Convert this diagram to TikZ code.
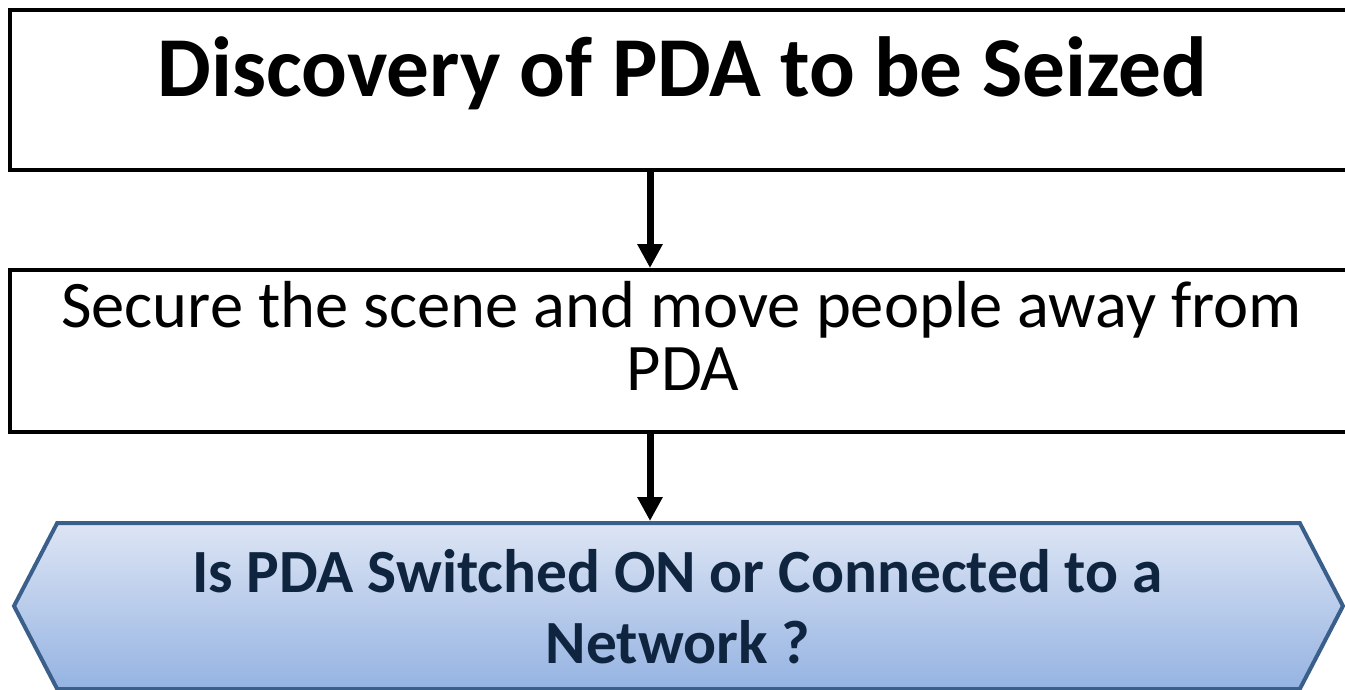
\documentclass[tikz,border=0pt]{standalone}
\usepackage{fontspec}
\setmainfont{Carlito}
\usetikzlibrary{arrows.meta,shapes.symbols}
\definecolor{qborder}{HTML}{3A5F8B}
\definecolor{qtop}{HTML}{DDE5F4}
\definecolor{qbottom}{HTML}{95B3E2}
\definecolor{qtext}{HTML}{0F243E}
\tikzset{
  stepbox/.style={draw=black, line width=4pt, fill=white, rectangle,
    minimum width=1344pt, inner sep=0pt},
  question/.style={signal, signal to=west and east, signal pointer angle=125,
    draw=qborder, line width=4pt, top color=qtop, bottom color=qbottom,
    minimum width=1329pt, minimum height=166pt, inner sep=0pt},
  flow/.style={draw=black, line width=7pt, -{Triangle[width=24pt,length=24pt]}},
  titletext/.style={font=\fontsize{85.3}{90}\selectfont\bfseries, anchor=base, inner sep=0pt},
  plaintext/.style={font=\fontsize{66.5}{70}\selectfont, anchor=base, inner sep=0pt},
  asktext/.style={font=\fontsize{61.4}{64}\selectfont\bfseries, text=qtext, anchor=base, inner sep=0pt},
}
\begin{document}
\begin{tikzpicture}[x=1pt,y=-1pt]
  \useasboundingbox (0,0) rectangle (1345,690);
  \clip (0,0) rectangle (1345,690);

  % process boxes
  \node[stepbox, minimum height=160pt] (discover) at (682,90) {};
  \node[stepbox, minimum height=162pt] (secure) at (682,351) {};
  % decision
  \node[question] (ask) at (678.5,606) {};

  % texts
  \node[titletext] (t1) at (682.5,97) {Discovery of PDA to be Seized};
  \node[plaintext] (t2a) at (681.5,327) {Secure the scene and move people away from};
  \node[plaintext] (t2b) at (683,390) {PDA};
  \node[asktext] (t3a) at (677.5,592) {Is PDA Switched ON or Connected to a};
  \node[asktext] (t3b) at (678,663) {Network ?};

  % connectors
  \draw[flow] ([xshift=-32pt]discover.south) -- ([xshift=-32pt]secure.north);
  \draw[flow] ([xshift=-32pt]secure.south) -- ([xshift=-28.5pt]ask.north);
\end{tikzpicture}
\end{document}
